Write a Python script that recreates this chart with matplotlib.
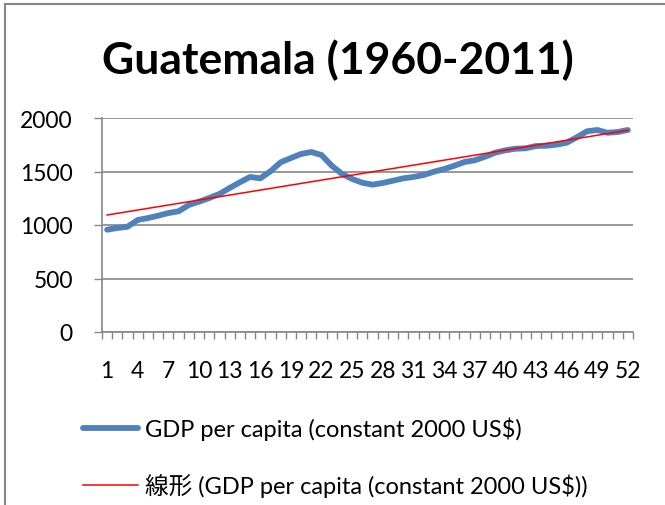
import numpy as np
import matplotlib
matplotlib.use("Agg")
import matplotlib.pyplot as plt
from matplotlib.lines import Line2D

plt.rcParams['font.family'] = ['Lato', 'Noto Sans CJK JP', 'DejaVu Sans']

title = "Guatemala (1960-2011)"
series_label = "GDP per capita (constant 2000 US$)"
trend_label = "線形 (GDP per capita (constant 2000 US$))"
categories = list(range(1, 53))
gdp = [956, 972, 984, 1047, 1065, 1087, 1112, 1128, 1187, 1218,
       1252, 1290, 1346, 1399, 1449, 1436, 1502, 1586, 1626, 1664,
       1682, 1654, 1554, 1477, 1430, 1395, 1377, 1393, 1414, 1436,
       1449, 1467, 1498, 1523, 1554, 1589, 1605, 1638, 1676, 1698,
       1713, 1717, 1738, 1741, 1751, 1769, 1820, 1876, 1888, 1862,
       1869, 1888]
yticks = [0, 500, 1000, 1500, 2000]
xtick_labels = list(range(1, 53, 3))

fig = plt.figure(figsize=(6.65, 5.06), dpi=100)
ax = fig.add_axes([102/665, 1-333/506, (633-102)/665, (333-119)/506])

x = np.array(categories, dtype=float)
y = np.array(gdp, dtype=float)
coef = np.polyfit(x, y, 1)
trend = np.polyval(coef, x)

ax.plot(x, y, color='#4F81BD', lw=4.2, solid_capstyle='round', solid_joinstyle='round', zorder=3)
ax.plot(x, trend, color='#FF0000', lw=1.1, zorder=4)

ax.set_xlim(0.5, 52.5)
ax.set_ylim(0, 2000)
ax.set_yticks(yticks)
ax.set_yticklabels([str(v) for v in yticks])
ax.set_xticks(xtick_labels)
ax.set_xticklabels([str(v) for v in xtick_labels])
ax.set_xticks(np.arange(0.5, 53, 1), minor=True)
ax.tick_params(axis='x', which='major', length=0, labelsize=16.5, pad=20, colors='black')
ax.tick_params(axis='x', which='minor', length=5, width=1, color='#868686', direction='out')
ax.tick_params(axis='y', length=6, width=1, color='#868686', labelsize=16.5, pad=15, direction='out')
for t in ax.get_yticklabels() + ax.get_xticklabels():
    t.set_color('black')

ax.grid(axis='y', color='#868686', lw=1.2)
ax.set_axisbelow(True)
for s in ['top', 'right']:
    ax.spines[s].set_visible(False)
for s in ['left', 'bottom']:
    ax.spines[s].set_color('#868686')
    ax.spines[s].set_linewidth(1.2)

fig.text(338/665, 1-60/506, title, ha='center', va='center', fontsize=32, fontweight='bold')

handles = [Line2D([], [], color='#4F81BD', lw=4.2, solid_capstyle='round'),
           Line2D([], [], color='#FF0000', lw=1.1)]
fig.legend(handles, [series_label, trend_label], loc='upper left',
           bbox_to_anchor=(74/665, 1-408/506), frameon=False, fontsize=17,
           handlelength=2.3, handletextpad=0.3, labelspacing=1.42, borderaxespad=0)

# chart border
fig.add_artist(Line2D([5/665, 5/665], [0, 1-5/506], color='#868686', lw=1.5, transform=fig.transFigure))
fig.add_artist(Line2D([5/665, 1], [1-5/506, 1-5/506], color='#868686', lw=1.5, transform=fig.transFigure))

fig.savefig('out.png', dpi=100)
